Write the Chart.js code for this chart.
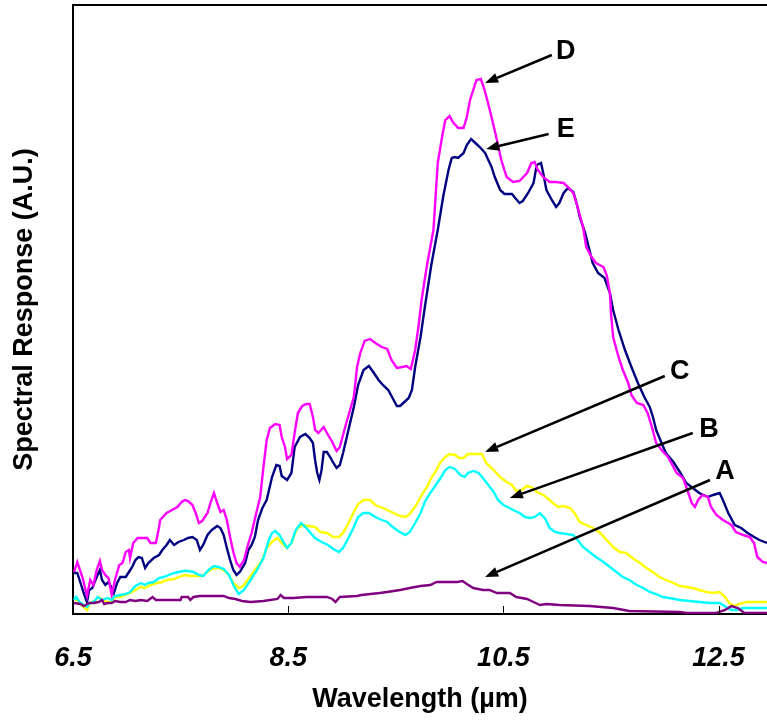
<!DOCTYPE html>
<html>
<head>
<meta charset="utf-8">
<title>Spectral Response</title>
<script src="https://cdn.jsdelivr.net/npm/chart.js@4.4.1/dist/chart.umd.min.js"></script>
<style>
  html, body { margin: 0; padding: 0; background: #fff; overflow: hidden; }
  #wrap { width: 767px; height: 721px; }
</style>
</head>
<body>
<div id="wrap"><canvas id="chart" width="767" height="721"></canvas></div>
<script>
/* Data: [wavelength (µm), response (A.U.)] */
const A_POINTS = [[6.51,1.1],[6.57,1.0],[6.60,0.8],[6.65,1.1],[6.69,1.1],[6.74,1.2],[6.77,1.4],[6.79,1.0],[6.82,1.1],[6.86,1.1],[6.89,1.3],[6.94,1.2],[6.99,1.2],[7.03,1.4],[7.08,1.3],[7.13,1.4],[7.19,1.3],[7.24,1.7],[7.27,1.4],[7.34,1.4],[7.42,1.4],[7.50,1.4],[7.51,1.7],[7.57,1.7],[7.59,1.4],[7.62,1.7],[7.68,1.8],[7.78,1.8],[7.90,1.8],[7.95,1.6],[8.01,1.5],[8.07,1.3],[8.15,1.2],[8.27,1.3],[8.40,1.5],[8.43,1.9],[8.46,1.6],[8.55,1.6],[8.67,1.7],[8.86,1.7],[8.91,1.5],[8.94,1.2],[8.98,1.7],[9.14,1.8],[9.18,1.9],[9.35,2.1],[9.42,2.2],[9.54,2.4],[9.63,2.6],[9.73,2.8],[9.82,2.9],[9.88,3.2],[10.00,3.2],[10.07,3.2],[10.12,3.3],[10.16,3.0],[10.22,2.6],[10.31,2.4],[10.37,2.4],[10.44,2.1],[10.56,2.1],[10.62,1.7],[10.72,1.5],[10.78,1.2],[10.84,0.9],[10.90,1.0],[11.02,0.9],[11.30,0.8],[11.52,0.6],[11.67,0.3],[12.14,0.2],[12.20,0.1],[12.48,0.1],[12.56,0.4],[12.62,0.8],[12.68,0.6],[12.74,0.1],[12.95,0.1]];

const B_POINTS = [[6.51,1.4],[6.53,1.7],[6.56,1.2],[6.60,0.9],[6.63,0.7],[6.66,1.1],[6.69,1.2],[6.73,1.7],[6.77,1.4],[6.82,1.6],[6.86,1.4],[6.89,1.8],[6.94,1.9],[6.99,2.0],[7.03,2.2],[7.08,2.8],[7.13,3.1],[7.17,2.9],[7.20,3.1],[7.25,3.2],[7.30,3.6],[7.34,3.7],[7.39,3.9],[7.44,4.1],[7.48,4.2],[7.53,4.3],[7.57,4.3],[7.62,4.2],[7.67,3.9],[7.71,3.8],[7.76,4.4],[7.81,4.8],[7.85,4.7],[7.90,4.5],[7.95,3.9],[7.99,2.9],[8.04,2.0],[8.09,2.4],[8.15,3.4],[8.21,4.4],[8.27,5.6],[8.32,7.4],[8.35,8.1],[8.38,8.3],[8.42,7.9],[8.46,7.1],[8.49,6.6],[8.53,7.1],[8.57,8.4],[8.62,9.1],[8.66,8.7],[8.70,8.2],[8.75,7.6],[8.81,7.2],[8.87,6.9],[8.92,6.5],[8.97,6.2],[9.01,6.6],[9.06,7.6],[9.11,8.7],[9.15,9.7],[9.20,10.1],[9.25,10.1],[9.31,9.7],[9.37,9.4],[9.42,9.2],[9.46,8.8],[9.52,8.3],[9.59,7.9],[9.63,8.2],[9.68,9.1],[9.73,10.1],[9.77,11.2],[9.82,12.1],[9.86,12.7],[9.91,13.5],[9.96,14.4],[10.00,14.7],[10.05,14.5],[10.10,13.9],[10.14,13.7],[10.17,14.1],[10.22,14.3],[10.27,14.1],[10.31,13.6],[10.36,12.9],[10.41,12.2],[10.45,11.4],[10.50,10.9],[10.54,10.7],[10.59,10.4],[10.65,10.1],[10.70,9.7],[10.75,9.6],[10.79,9.7],[10.84,10.1],[10.89,9.5],[10.93,8.6],[10.98,8.2],[11.02,8.1],[11.09,8.0],[11.15,7.9],[11.19,7.4],[11.24,6.7],[11.30,6.2],[11.36,5.7],[11.43,5.2],[11.49,4.7],[11.55,4.2],[11.61,3.7],[11.67,3.4],[11.74,2.9],[11.80,2.6],[11.86,2.2],[11.92,2.0],[11.98,1.7],[12.04,1.6],[12.14,1.4],[12.23,1.3],[12.32,1.2],[12.42,1.1],[12.51,1.1],[12.57,0.7],[12.62,0.4],[12.67,0.4],[12.73,0.6],[12.82,0.6],[12.95,0.6]];

const C_POINTS = [[6.51,1.6],[6.55,1.2],[6.60,0.7],[6.63,0.4],[6.66,1.1],[6.71,1.4],[6.74,1.7],[6.77,1.4],[6.82,1.2],[6.86,1.2],[6.89,1.7],[6.94,1.7],[6.99,1.9],[7.03,2.1],[7.08,2.4],[7.13,2.7],[7.17,2.6],[7.22,2.9],[7.28,3.1],[7.33,3.2],[7.37,3.4],[7.44,3.5],[7.48,3.7],[7.54,3.9],[7.59,3.8],[7.65,3.8],[7.70,3.8],[7.75,4.2],[7.79,4.5],[7.85,4.6],[7.90,4.4],[7.95,3.9],[7.99,3.1],[8.04,2.6],[8.08,2.8],[8.13,3.5],[8.19,4.4],[8.26,5.4],[8.30,6.6],[8.35,7.2],[8.40,7.6],[8.44,7.1],[8.49,6.6],[8.53,7.1],[8.58,8.5],[8.63,8.9],[8.69,8.8],[8.75,8.7],[8.80,8.2],[8.86,8.1],[8.92,7.7],[8.97,7.7],[9.01,8.1],[9.06,9.1],[9.11,10.2],[9.15,11.0],[9.20,11.4],[9.26,11.4],[9.31,10.9],[9.38,10.6],[9.46,10.2],[9.54,9.8],[9.59,9.7],[9.63,10.0],[9.69,10.9],[9.74,11.9],[9.79,12.7],[9.83,13.6],[9.88,14.4],[9.91,15.1],[9.96,15.7],[10.00,16.0],[10.05,15.9],[10.09,15.6],[10.13,15.6],[10.17,16.0],[10.24,16.0],[10.30,16.0],[10.34,15.1],[10.41,14.4],[10.47,13.7],[10.53,13.2],[10.58,12.9],[10.62,12.3],[10.67,12.4],[10.72,12.8],[10.76,12.7],[10.81,12.2],[10.87,11.9],[10.92,11.5],[10.96,11.1],[11.01,10.7],[11.06,10.8],[11.12,10.6],[11.16,10.1],[11.21,9.2],[11.27,8.9],[11.33,8.6],[11.40,8.1],[11.46,7.4],[11.52,6.7],[11.58,6.2],[11.64,6.1],[11.70,5.6],[11.77,5.1],[11.83,4.6],[11.89,4.2],[11.95,3.7],[12.01,3.4],[12.08,3.1],[12.14,2.8],[12.20,2.7],[12.26,2.6],[12.32,2.4],[12.39,2.2],[12.45,2.1],[12.51,2.2],[12.56,1.7],[12.60,1.1],[12.65,0.8],[12.69,1.0],[12.76,1.2],[12.85,1.2],[12.95,1.2]];

const D_POINTS = [[6.51,4.2],[6.54,5.2],[6.59,3.6],[6.63,1.8],[6.66,3.4],[6.69,2.9],[6.72,4.4],[6.75,5.3],[6.77,4.4],[6.80,3.9],[6.83,3.6],[6.86,1.9],[6.89,3.4],[6.93,4.9],[6.96,5.1],[6.99,6.2],[7.02,6.4],[7.03,5.6],[7.06,7.1],[7.10,7.6],[7.14,7.6],[7.19,7.6],[7.22,7.1],[7.27,7.1],[7.30,8.7],[7.31,9.4],[7.37,10.1],[7.42,10.4],[7.47,10.7],[7.51,11.2],[7.54,11.4],[7.57,11.3],[7.61,10.9],[7.64,10.1],[7.67,9.1],[7.70,9.3],[7.75,10.1],[7.78,11.2],[7.81,12.1],[7.84,11.1],[7.87,10.2],[7.90,10.4],[7.93,9.4],[7.96,7.7],[7.99,6.2],[8.02,5.1],[8.05,4.7],[8.09,5.4],[8.12,6.7],[8.16,8.1],[8.21,10.4],[8.24,11.7],[8.27,14.7],[8.30,17.4],[8.33,18.6],[8.38,19.0],[8.42,18.9],[8.44,17.7],[8.47,16.7],[8.49,15.5],[8.53,15.9],[8.56,18.1],[8.59,20.1],[8.63,20.8],[8.67,21.0],[8.70,21.0],[8.73,19.7],[8.75,18.4],[8.78,18.1],[8.83,18.7],[8.86,18.1],[8.91,17.2],[8.95,16.3],[8.98,16.7],[9.04,19.1],[9.11,21.7],[9.14,24.7],[9.17,26.1],[9.21,27.3],[9.26,27.5],[9.31,27.1],[9.37,26.7],[9.42,26.5],[9.46,25.4],[9.51,24.6],[9.56,24.7],[9.60,24.8],[9.64,24.5],[9.68,26.4],[9.71,28.7],[9.74,31.4],[9.79,34.9],[9.85,38.4],[9.89,45.1],[9.93,47.7],[9.96,49.4],[10.00,49.8],[10.03,49.2],[10.08,48.6],[10.13,48.6],[10.16,49.7],[10.19,51.4],[10.22,52.4],[10.25,53.4],[10.29,53.5],[10.32,52.6],[10.35,51.4],[10.39,49.7],[10.44,47.4],[10.48,45.4],[10.53,43.7],[10.59,43.2],[10.65,43.3],[10.72,44.1],[10.76,45.1],[10.79,45.2],[10.82,44.4],[10.87,43.7],[10.93,43.2],[10.99,43.2],[11.06,43.1],[11.10,42.7],[11.15,42.1],[11.19,40.7],[11.24,38.7],[11.27,36.7],[11.32,35.7],[11.36,35.1],[11.43,34.7],[11.46,33.9],[11.49,32.1],[11.50,30.1],[11.52,27.7],[11.57,25.7],[11.61,24.4],[11.66,23.1],[11.69,21.9],[11.74,21.1],[11.80,20.9],[11.84,20.1],[11.88,18.7],[11.92,17.1],[11.97,16.4],[12.03,15.7],[12.11,14.1],[12.17,13.6],[12.21,12.4],[12.25,11.1],[12.28,10.7],[12.31,11.4],[12.35,11.9],[12.40,11.7],[12.43,10.7],[12.48,9.9],[12.54,9.4],[12.62,8.9],[12.66,8.2],[12.73,7.9],[12.79,7.7],[12.83,7.1],[12.86,5.7],[12.91,5.2],[12.95,5.1]];

const E_POINTS = [[6.51,4.1],[6.54,4.1],[6.57,3.1],[6.60,2.1],[6.63,1.2],[6.65,2.4],[6.68,2.6],[6.69,2.9],[6.72,3.7],[6.75,4.4],[6.77,3.4],[6.80,2.9],[6.83,3.2],[6.86,2.6],[6.88,2.1],[6.91,3.1],[6.94,3.7],[6.99,3.7],[7.02,4.2],[7.05,4.7],[7.08,5.4],[7.11,5.7],[7.14,5.6],[7.17,4.6],[7.20,5.1],[7.25,5.6],[7.30,5.9],[7.33,6.4],[7.37,6.9],[7.40,7.4],[7.44,6.9],[7.48,7.2],[7.53,7.4],[7.57,7.6],[7.61,7.7],[7.65,7.4],[7.68,6.4],[7.71,6.9],[7.75,7.9],[7.79,8.4],[7.84,8.8],[7.87,8.6],[7.90,7.9],[7.93,6.6],[7.96,5.4],[7.99,4.4],[8.02,3.9],[8.05,4.2],[8.10,5.1],[8.13,6.4],[8.16,6.9],[8.19,7.7],[8.22,9.4],[8.26,10.6],[8.30,11.4],[8.35,13.7],[8.39,14.9],[8.42,14.8],[8.44,13.8],[8.49,13.4],[8.53,14.1],[8.56,16.7],[8.61,17.7],[8.66,18.0],[8.70,17.6],[8.73,17.1],[8.75,15.4],[8.77,14.1],[8.79,13.4],[8.81,14.4],[8.83,16.2],[8.86,16.2],[8.89,15.7],[8.92,15.1],[8.95,14.6],[8.98,14.9],[9.01,16.1],[9.06,18.4],[9.11,20.7],[9.15,22.9],[9.20,24.4],[9.25,24.8],[9.29,24.2],[9.34,23.4],[9.38,22.9],[9.43,22.4],[9.48,21.4],[9.51,20.8],[9.54,20.8],[9.58,21.2],[9.62,21.6],[9.65,22.4],[9.68,24.7],[9.73,27.7],[9.77,30.7],[9.83,34.9],[9.89,38.4],[9.94,41.7],[9.99,44.4],[10.02,45.6],[10.05,45.7],[10.08,45.6],[10.13,46.1],[10.16,46.9],[10.20,47.5],[10.24,47.1],[10.28,46.7],[10.33,46.1],[10.36,45.4],[10.39,44.7],[10.42,43.7],[10.47,42.4],[10.51,42.0],[10.58,42.0],[10.61,41.6],[10.65,41.1],[10.68,41.3],[10.73,42.1],[10.78,43.1],[10.81,44.9],[10.85,45.1],[10.87,44.1],[10.90,42.4],[10.95,41.4],[10.99,40.7],[11.02,41.1],[11.06,42.1],[11.10,42.6],[11.15,42.2],[11.18,41.1],[11.21,39.7],[11.26,38.1],[11.30,36.4],[11.33,35.1],[11.38,34.1],[11.44,33.6],[11.49,32.1],[11.52,30.4],[11.57,28.4],[11.63,26.4],[11.69,24.7],[11.75,23.1],[11.81,21.7],[11.86,20.7],[11.89,19.7],[11.92,18.4],[11.97,17.1],[12.01,16.1],[12.08,15.2],[12.14,14.2],[12.20,13.1],[12.26,12.6],[12.32,12.1],[12.40,11.7],[12.45,11.9],[12.51,12.1],[12.54,11.4],[12.59,10.1],[12.65,8.9],[12.71,8.6],[12.77,8.1],[12.83,7.7],[12.88,7.4],[12.95,7.1]];

const SERIES_NAMES = ['A', 'B', 'C', 'D', 'E'];
const SERIES_COLORS = ['#800080', '#00FFFF', '#FFFF00', '#FF00FF', '#000080'];

const X_TICKS = [6.5, 8.5, 10.5, 12.5];
const X_TICK_LABELS = ['6.5', '8.5', '10.5', '12.5'];

/* Arrow callouts, in data units */
const ARROW_FROM = [[12.42, 13.4], [12.26, 18.1], [12.00, 23.8], [10.95, 55.9], [10.92, 48.0]];
const ARROW_TO = [[10.33, 3.7], [10.56, 11.6], [10.33, 16.2], [10.33, 53.1], [10.34, 46.5]];
const LABEL_AT = [[12.56, 14.2], [12.41, 18.4], [12.14, 24.2], [11.08, 56.2], [11.08, 48.4]];

(function () {
  const FONT = '"Liberation Sans", Arial, Helvetica, sans-serif';
  const allPoints = [A_POINTS, B_POINTS, C_POINTS, D_POINTS, E_POINTS];

  function drawArrow(ctx, x1, y1, x2, y2) {
    const ang = Math.atan2(y2 - y1, x2 - x1);
    const head = 13, half = 5;
    const bx = x2 - head * Math.cos(ang);
    const by = y2 - head * Math.sin(ang);
    ctx.lineWidth = 2.5;
    ctx.beginPath();
    ctx.moveTo(x1, y1);
    ctx.lineTo(bx, by);
    ctx.stroke();
    ctx.beginPath();
    ctx.moveTo(x2, y2);
    ctx.lineTo(bx + half * Math.sin(ang), by - half * Math.cos(ang));
    ctx.lineTo(bx - half * Math.sin(ang), by + half * Math.cos(ang));
    ctx.closePath();
    ctx.fill();
  }

  /* Frame top, inward ticks, callouts */
  const decorations = {
    id: 'decorations',
    afterDatasetsDraw: function (chart) {
      const ctx = chart.ctx;
      const area = chart.chartArea;
      const xs = chart.scales.x;
      const ys = chart.scales.y;
      ctx.save();
      ctx.strokeStyle = '#000';
      ctx.fillStyle = '#000';
      ctx.lineWidth = 2;
      ctx.beginPath();
      ctx.moveTo(area.left, area.top);
      ctx.lineTo(area.right, area.top);
      ctx.stroke();

      ctx.lineWidth = 1;
      X_TICKS.forEach(function (v) {
        const px = Math.round(xs.getPixelForValue(v)) + 0.5;
        ctx.beginPath();
        ctx.moveTo(px, area.bottom);
        ctx.lineTo(px, area.bottom - 8);
        ctx.stroke();
      });

      ctx.font = 'bold 27px ' + FONT;
      ctx.textAlign = 'center';
      ctx.textBaseline = 'middle';
      SERIES_NAMES.forEach(function (name, i) {
        drawArrow(ctx,
          xs.getPixelForValue(ARROW_FROM[i][0]), ys.getPixelForValue(ARROW_FROM[i][1]),
          xs.getPixelForValue(ARROW_TO[i][0]), ys.getPixelForValue(ARROW_TO[i][1]));
        ctx.fillText(name, xs.getPixelForValue(LABEL_AT[i][0]), ys.getPixelForValue(LABEL_AT[i][1]));
      });
      ctx.restore();
    }
  };

  new Chart(document.getElementById('chart'), {
    type: 'line',
    data: {
      datasets: SERIES_NAMES.map(function (name, i) {
        return {
          label: name,
          data: allPoints[i].map(function (p) { return { x: p[0], y: p[1] }; }),
          borderColor: SERIES_COLORS[i],
          borderWidth: 2.4,
          pointRadius: 0,
          tension: 0,
          fill: false
        };
      })
    },
    options: {
      responsive: false,
      animation: false,
      layout: { padding: { top: 5, right: 0, bottom: 0, left: 0 } },
      plugins: { legend: { display: false }, tooltip: { enabled: false } },
      scales: {
        x: {
          type: 'linear',
          min: 6.5,
          max: 12.95,
          afterBuildTicks: function (scale) {
            scale.ticks = X_TICKS.map(function (v) { return { value: v }; });
          },
          afterFit: function (scale) {
            scale.height = 107;
            scale.paddingLeft = 0;
            scale.paddingRight = 0;
          },
          grid: { display: false, drawTicks: false },
          border: { display: true, color: '#000', width: 2 },
          ticks: {
            padding: 28,
            maxRotation: 0,
            autoSkip: false,
            color: '#000',
            font: { family: FONT, size: 27, weight: 'bold', style: 'italic' },
            callback: function (value, index) { return X_TICK_LABELS[index]; }
          },
          title: {
            display: true,
            text: 'Wavelength (µm)',
            color: '#000',
            padding: { top: 0, bottom: 5 },
            font: { family: FONT, size: 27, weight: 'bold' }
          }
        },
        y: {
          min: 0,
          max: 60.9,
          afterFit: function (scale) {
            scale.width = 73;
            scale.paddingTop = 0;
            scale.paddingBottom = 0;
          },
          grid: { display: false, drawTicks: false },
          border: { display: true, color: '#000', width: 2 },
          ticks: { display: false },
          title: {
            display: true,
            text: 'Spectral Response (A.U.)',
            color: '#000',
            padding: { top: 8, bottom: 0 },
            font: { family: FONT, size: 27, weight: 'bold' }
          }
        }
      }
    },
    plugins: [decorations]
  });
})();
</script>
</body>
</html>
